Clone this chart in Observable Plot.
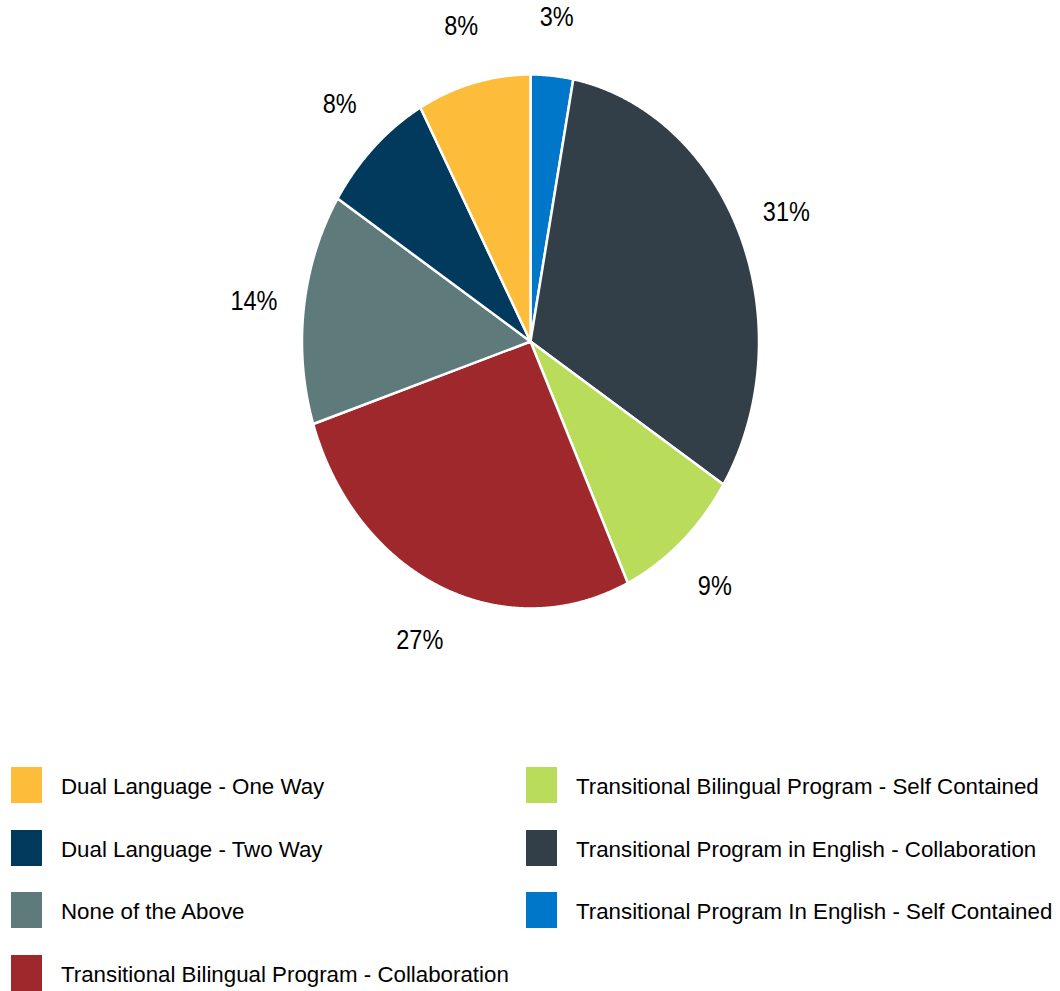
<!DOCTYPE html>
<html>
<head>
<meta charset="utf-8">
<script src="https://cdn.jsdelivr.net/npm/d3@7"></script>
<script src="https://cdn.jsdelivr.net/npm/@observablehq/plot@0.6"></script>
<style>
  body { margin: 0; background: #fff; font-family: "Liberation Sans", Arial, sans-serif; }
  #legend {
    display: grid;
    grid-auto-flow: column;
    grid-template-rows: repeat(4, 62.7px);
    grid-template-columns: 515px 534px;
    padding-left: 11px;
    margin-top: 17px;
  }
  .item { display: flex; align-items: center; height: 36px; }
  .sw { width: 31px; height: 36px; margin-right: 19px; flex: none; }
  .lab { font-size: 22.3px; color: #000; white-space: nowrap; position: relative; top: 2px; }
</style>
</head>
<body>
<div id="chart"></div>
<div id="legend"></div>
<script>
// Program categories, in legend order
const programs = [
  "Dual Language - One Way",
  "Dual Language - Two Way",
  "None of the Above",
  "Transitional Bilingual Program - Collaboration",
  "Transitional Bilingual Program - Self Contained",
  "Transitional Program in English - Collaboration",
  "Transitional Program In English - Self Contained"
];
// Share of students (%) per program
const shares = [8, 8, 14, 27, 9, 31, 3];
// Slice colours
const colors = ["#FDBD3A", "#013A5C", "#5E7A7B", "#9E282B", "#B9DC5A", "#333F48", "#0077C8"];

// Slices run clockwise from 12 o'clock in reverse legend order
const slices = programs.map((program, i) => ({program, share: shares[i]})).reverse();
const arcs = d3.pie().sort(null).value(d => d.share)(slices);

// Each wedge as a closed polygon in unit-circle coordinates
const wedgePoints = arcs.flatMap(a => {
  const n = Math.max(2, Math.ceil((a.endAngle - a.startAngle) / 0.005));
  const pts = [{program: a.data.program, x: 0, y: 0}];
  for (let k = 0; k <= n; ++k) {
    const t = a.startAngle + (a.endAngle - a.startAngle) * k / n;
    pts.push({program: a.data.program, x: Math.sin(t), y: Math.cos(t)});
  }
  pts.push({program: a.data.program, x: 0, y: 0});
  return pts;
});

// Percentage labels just outside the rim
const labelRadius = 1.22;
const labels = arcs.map(a => {
  const m = (a.startAngle + a.endAngle) / 2;
  return {x: labelRadius * Math.sin(m), y: labelRadius * Math.cos(m), text: `${a.data.share}%`};
});

const chart = Plot.plot({
  width: 1060,
  height: 750,
  margin: 0,
  style: {background: "#fff", fontFamily: "'Liberation Sans', Arial, sans-serif"},
  x: {domain: [-1, 1], range: [301.5, 758.5], axis: null},
  y: {domain: [-1, 1], range: [608, 74], axis: null},
  color: {domain: programs, range: colors},
  marks: [
    Plot.line(wedgePoints, {
      x: "x", y: "y", z: "program", fill: "program",
      stroke: "white", strokeWidth: 2.5, strokeLinejoin: "round"
    }),
    Plot.text(labels, {x: "x", y: "y", text: "text", fontSize: 28, fill: "#000"})
  ]
});

// Narrow the percentage labels horizontally
d3.select(chart).selectAll("text").each(function () {
  const t = d3.select(this);
  const tr = t.attr("transform");
  if (tr) {
    t.attr("transform", tr + " scale(0.84,1)");
  } else {
    const x = +t.attr("x") || 0, y = +t.attr("y") || 0;
    t.attr("x", null).attr("y", null).attr("transform", `translate(${x},${y}) scale(0.84,1)`);
  }
});

document.getElementById("chart").appendChild(chart);

// Two-column legend
const legend = d3.select("#legend");
programs.forEach((p, i) => {
  const item = legend.append("div").attr("class", "item");
  item.append("div").attr("class", "sw").style("background", colors[i]);
  item.append("span").attr("class", "lab").text(p);
});
</script>
</body>
</html>
